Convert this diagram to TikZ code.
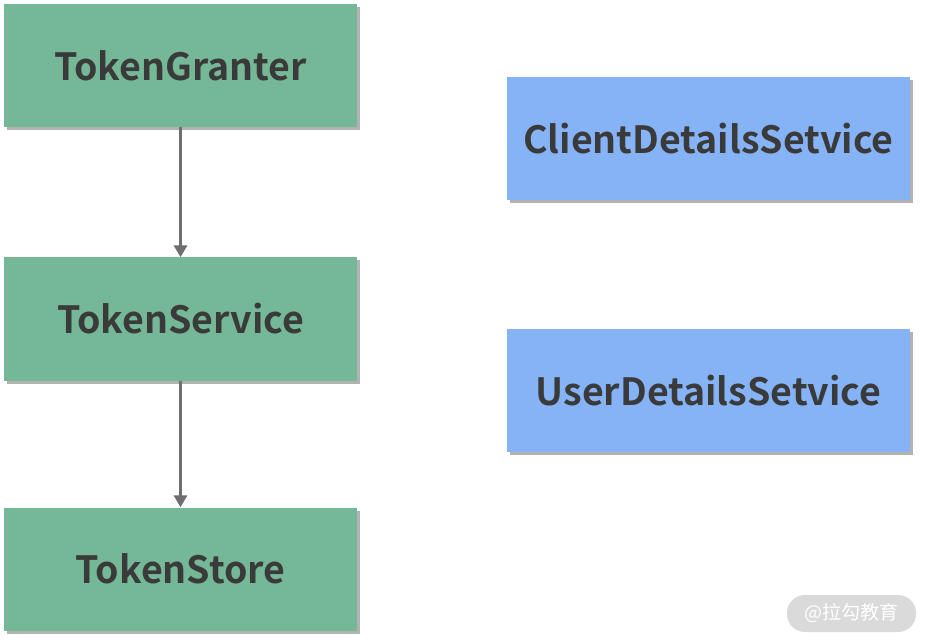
\documentclass[tikz,border=0pt]{standalone}
\usepackage{fontspec}
\setmainfont{Noto Sans CJK SC}[BoldFont={Noto Sans CJK SC Bold}]
\usepackage{xcolor}
\usetikzlibrary{arrows.meta, shadows}
\definecolor{tgreen}{HTML}{74B898}
\definecolor{tblue}{HTML}{85B3F5}
\definecolor{ttext}{HTML}{3A3A3A}
\definecolor{tarrow}{HTML}{6E6E6E}
\definecolor{tmark}{HTML}{DADADA}

\tikzset{
  box/.style={rectangle, minimum height=123pt, inner sep=0pt,
    font=\fontsize{37.5}{40}\selectfont\bfseries, text=ttext,
    drop shadow={shadow xshift=3pt, shadow yshift=-3pt, opacity=0.3, fill=black}},
  greenbox/.style={box, fill=tgreen, minimum width=353pt},
  bluebox/.style={box, fill=tblue, minimum width=403pt},
  flow/.style={draw=tarrow, line width=3.6pt, -{Triangle[length=12pt, width=13pt]}}
}

\begin{document}
\begin{tikzpicture}[x=1pt, y=-1pt]
\useasboundingbox (0,0) rectangle (929,644);
\fill[white] (0,0) rectangle (929,644);
% left column
\node[greenbox] (granter) at (180.5,65.5) {TokenGranter};
\node[greenbox] (service) at (180.5,319) {TokenService};
\node[greenbox] (store) at (180.5,569) {TokenStore};
\draw[flow] (granter) -- (service);
\draw[flow] (service) -- (store);
% right column
\node[bluebox] (client) at (708.5,139) {ClientDetailsSetvice};
\node[bluebox] (user) at (708.5,390.5) {UserDetailsSetvice};
% watermark
\node[fill=tmark, rounded corners=18pt, minimum width=129pt, minimum height=37pt,
  inner sep=0pt, text=white, font=\fontsize{19}{22}\selectfont] (mark) at (851.5,613.5) {@拉勾教育};
\end{tikzpicture}
\end{document}
